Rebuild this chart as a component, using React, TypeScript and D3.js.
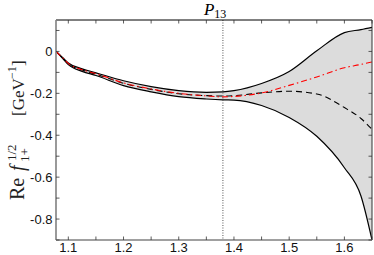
import * as d3 from 'd3';

// sqrt(s) in GeV
const energy = [1.0777, 1.09, 1.1, 1.125, 1.15, 1.2, 1.25, 1.3, 1.35, 1.38, 1.4, 1.45, 1.5, 1.55, 1.6, 1.63, 1.65];
const upper = [0, -0.03, -0.055, -0.083, -0.102, -0.14, -0.168, -0.187, -0.195, -0.193, -0.187, -0.153, -0.096, 0.003, 0.09, 0.104, 0.115];
const lower = [0, -0.034, -0.063, -0.095, -0.115, -0.163, -0.193, -0.216, -0.227, -0.231, -0.232, -0.258, -0.315, -0.405, -0.555, -0.69, -0.9];
const central = [0, -0.032, -0.059, -0.089, -0.108, -0.152, -0.181, -0.202, -0.211, -0.213, -0.211, -0.198, -0.19, -0.203, -0.268, -0.32, -0.372];
const redCurve = [0, -0.031, -0.057, -0.087, -0.106, -0.15, -0.179, -0.2, -0.212, -0.217, -0.215, -0.198, -0.162, -0.122, -0.078, -0.062, -0.05];

const xTicks = [1.1, 1.2, 1.3, 1.4, 1.5, 1.6];
const xMinor = [1.1, 1.15, 1.2, 1.25, 1.3, 1.35, 1.4, 1.45, 1.5, 1.55, 1.6, 1.65];
const yTicks = [0, -0.2, -0.4, -0.6, -0.8];
const yMinor = [0.1, 0, -0.1, -0.2, -0.3, -0.4, -0.5, -0.6, -0.7, -0.8, -0.9];
const markerE = 1.38;

const W = 374;
const H = 255;
const left = 56, right = 372, top = 20, bottom = 240;

export default function App() {
  const x = d3.scaleLinear().domain([1.0777, 1.65]).range([left, right]);
  const y = d3.scaleLinear().domain([-0.9, 0.15]).range([bottom, top]);

  const pts = (vals: number[]) => energy.map((e, i) => [e, vals[i]] as [number, number]);
  const line = d3.line<[number, number]>()
    .x(d => x(d[0]))
    .y(d => y(d[1]))
    .curve(d3.curveMonotoneX);
  const area = d3.area<number>()
    .x((_, i) => x(energy[i]))
    .y0((_, i) => y(lower[i]))
    .y1((_, i) => y(upper[i]))
    .curve(d3.curveMonotoneX);

  const tickLen = 3.5;
  const sans = 'Liberation Sans, Arial, sans-serif';
  const serif = 'Liberation Serif, Times New Roman, serif';

  return (
    <svg width={W} height={H} style={{ position: 'absolute', left: 0, top: 0, background: '#fff' }}>
      <defs>
        <clipPath id="plot">
          <rect x={left} y={top} width={right - left} height={bottom - top} />
        </clipPath>
      </defs>

      <g clipPath="url(#plot)">
        <path d={area(energy) || ''} fill="#dcdcdc" />
        <path d={line(pts(upper)) || ''} fill="none" stroke="#000" strokeWidth={1.2} />
        <path d={line(pts(lower)) || ''} fill="none" stroke="#000" strokeWidth={1.2} />
        <path d={line(pts(central)) || ''} fill="none" stroke="#000" strokeWidth={1.1} strokeDasharray="6 4" />
        <path d={line(pts(redCurve)) || ''} fill="none" stroke="#ff0000" strokeWidth={1.1} strokeDasharray="6 3 1.5 3" />
      </g>

      {/* vertical marker */}
      <line x1={x(markerE)} x2={x(markerE)} y1={top} y2={bottom} stroke="#555" strokeWidth={1} strokeDasharray="1 1.5" />

      {/* box */}
      <line x1={left} x2={right} y1={top} y2={top} stroke="#000" strokeWidth={1} />
      <line x1={right} x2={right} y1={top} y2={bottom} stroke="#333" strokeWidth={1} />
      <line x1={left} x2={left} y1={top} y2={bottom} stroke="#808080" strokeWidth={1.6} />
      <line x1={left} x2={right} y1={bottom} y2={bottom} stroke="#808080" strokeWidth={1.6} />

      {/* ticks */}
      {xMinor.map(t => (
        <g key={'xt' + t}>
          <line x1={x(t)} x2={x(t)} y1={bottom} y2={bottom - tickLen} stroke="#333" strokeWidth={0.8} />
          <line x1={x(t)} x2={x(t)} y1={top} y2={top + tickLen} stroke="#333" strokeWidth={0.8} />
        </g>
      ))}
      {yMinor.map(t => (
        <g key={'yt' + t}>
          <line x1={left} x2={left + tickLen} y1={y(t)} y2={y(t)} stroke="#333" strokeWidth={0.8} />
          <line x1={right} x2={right - tickLen} y1={y(t)} y2={y(t)} stroke="#333" strokeWidth={0.8} />
        </g>
      ))}

      {xTicks.map(t => (
        <text key={'xl' + t} x={x(t)} y={252} textAnchor="middle" fontFamily={sans} fontSize={13} fill="#111">
          {d3.format('.1f')(t)}
        </text>
      ))}
      {yTicks.map(t => (
        <text key={'yl' + t} x={52.5} y={y(t) + 4.5} textAnchor="end" fontFamily={sans} fontSize={13} fill="#111">
          {t === 0 ? '0' : d3.format('.1f')(t).replace('−', '-')}
        </text>
      ))}

      {/* title */}
      <text x={x(markerE) - 19} y={14.5} fontFamily={serif} fontSize={17} fill="#000">
        <tspan fontStyle="italic">P</tspan>
        <tspan fontSize={12} dy={3}>13</tspan>
      </text>

      {/* y label */}
      <g transform="translate(24,200) rotate(-90)" fontFamily={serif} fill="#222">
        <text x={0} y={0} fontSize={20}>Re</text>
        <text x={29} y={0} fontSize={20} fontStyle="italic">f</text>
        <text x={39} y={-8} fontSize={13}>1/2</text>
        <text x={38} y={5} fontSize={13}>1+</text>
        <text x={84} y={0} fontSize={17}>[GeV</text>
        <text x={121} y={-8} fontSize={12}>−1</text>
        <text x={134} y={0} fontSize={17}>]</text>
      </g>
    </svg>
  );
}
